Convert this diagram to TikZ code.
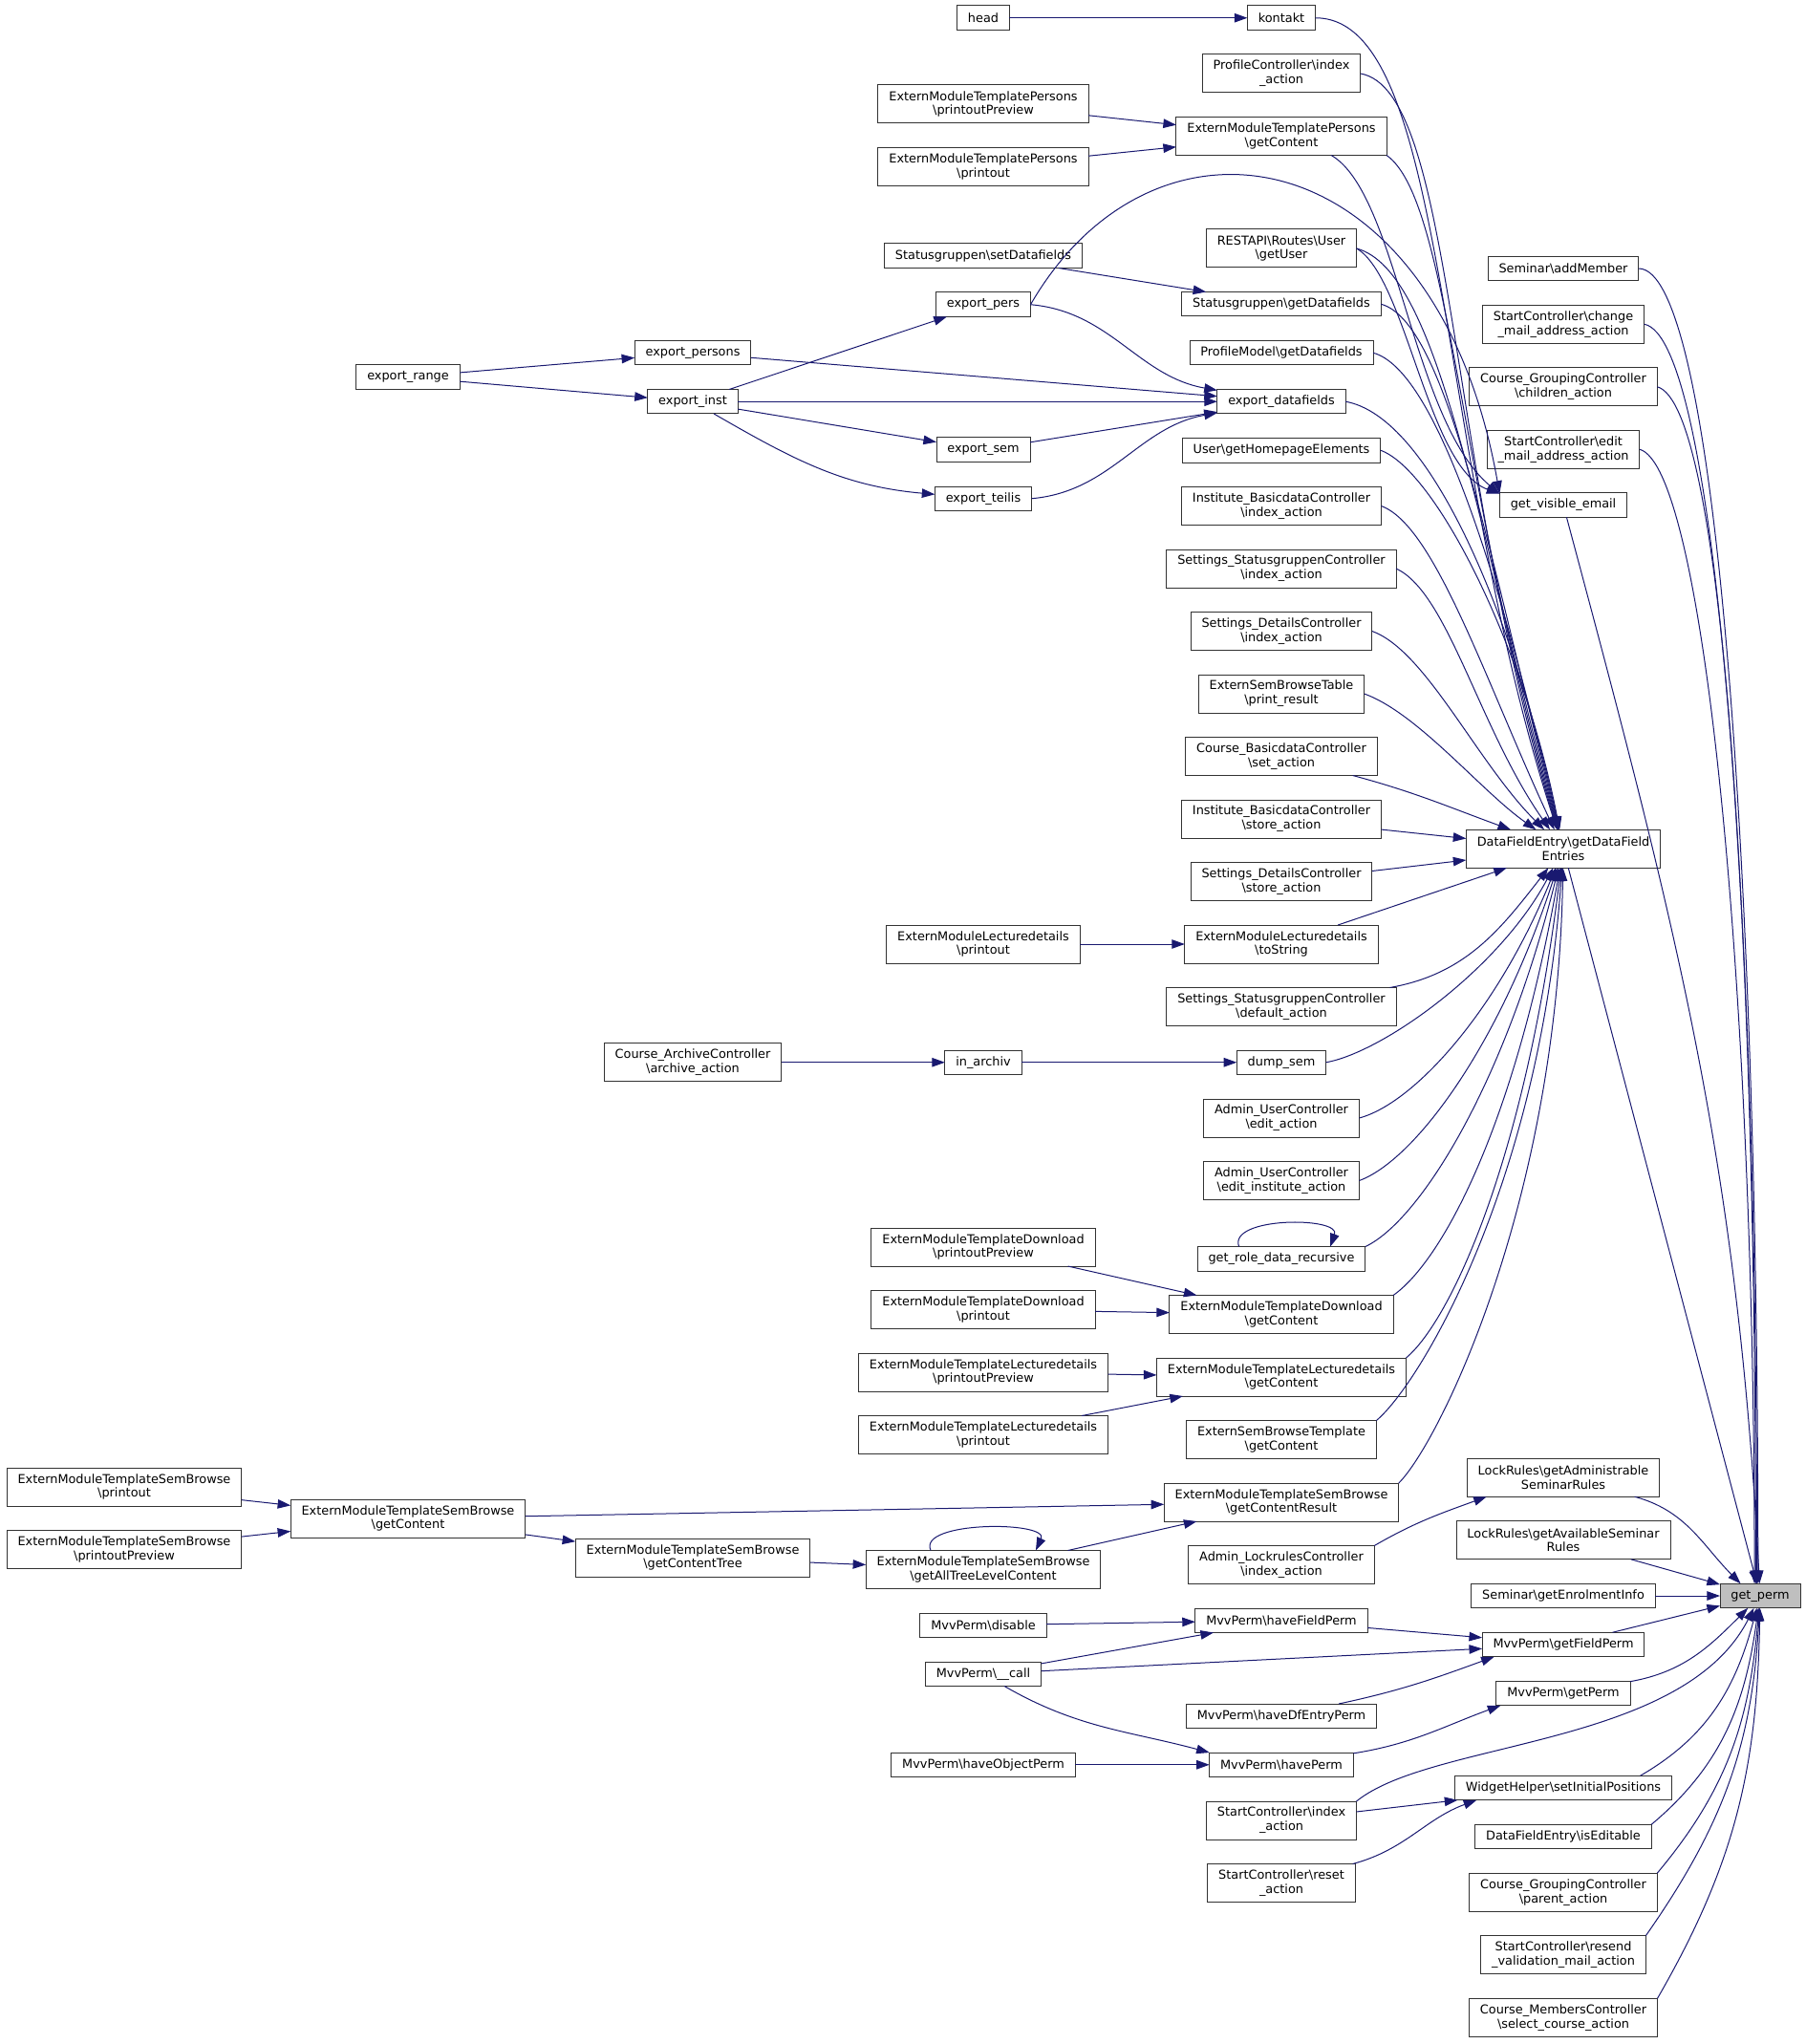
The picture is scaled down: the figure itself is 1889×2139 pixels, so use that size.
\documentclass[tikz,border=0pt]{standalone}
\usepackage{fontspec}
\newfontfamily\dxfont{DejaVu Sans}
\usepackage{tikz}
\usetikzlibrary{positioning,arrows.meta}
\definecolor{callblue}{HTML}{191970}
\definecolor{rootgray}{HTML}{BFBFBF}
\newcommand{\bsl}{\textbackslash}

\begin{document}
\begin{tikzpicture}[x=0.5pt, y=0.5pt, node distance=12.75pt]
	\tikzstyle{func}=[rectangle, draw=black!80, fill=white, line width=0.5pt, outer sep=0pt, inner xsep=5.7pt, inner ysep=0pt, minimum height=12.75pt, align=center, font=\dxfont\fontsize{6.43}{7.4}\selectfont]
	\tikzstyle{func2}=[func, minimum height=20pt]
	\tikzstyle{root}=[func, fill=rootgray]
	\tikzstyle{connect}=[-{Triangle[length=6.8pt, width=4.75pt]}, line width=0.5pt, draw=callblue]
	\useasboundingbox (0,0) rectangle (1889,-2139);
	\node[func2] (sbPrint) at (130,-1556) {ExternModuleTemplateSemBrowse\\\bsl printout};
	\node[func2] (sbPrev) [below=of sbPrint] {ExternModuleTemplateSemBrowse\\\bsl printoutPreview};
	\node[func] (exRange) at (427,-394.5) {export\_range};
	\node[func2] (sbGC) [below=580.875pt of exRange] {ExternModuleTemplateSemBrowse\\\bsl getContent};
	\node[func] (exPersons) at (725,-369.25) {export\_persons};
	\node[func] (exInst) [below=of exPersons] {export\_inst};
	\node[func2] (archiv) [below=329.375pt of exInst] {Course\_ArchiveController\\\bsl archive\_action};
	\node[func2] (sbTree) [below=239.125pt of archiv] {ExternModuleTemplateSemBrowse\\\bsl getContentTree};
	\node[func] (head) at (1029,-18.75) {head};
	\node[func2] (persPrev) [below=28.75pt of head] {ExternModuleTemplatePersons\\\bsl printoutPreview};
	\node[func2] (persPrint) [below=of persPrev] {ExternModuleTemplatePersons\\\bsl printout};
	\node[func] (sgSet) [below=30.25pt of persPrint] {Statusgruppen\bsl setDatafields};
	\node[func] (exPers) [below=of sgSet] {export\_pers};
	\node[func] (exSem) [below=63.25pt of exPers] {export\_sem};
	\node[func] (exTeilis) [below=of exSem] {export\_teilis};
	\node[func2] (emlPrint) [below=216.75pt of exTeilis] {ExternModuleLecturedetails\\\bsl printout};
	\node[func] (inArchiv) [below=45.5pt of emlPrint] {in\_archiv};
	\node[func2] (dlPrev) [below=80.25pt of inArchiv] {ExternModuleTemplateDownload\\\bsl printoutPreview};
	\node[func2] (dlPrint) [below=of dlPrev] {ExternModuleTemplateDownload\\\bsl printout};
	\node[func2] (ldPrev) [below=of dlPrint] {ExternModuleTemplateLecturedetails\\\bsl printoutPreview};
	\node[func2] (ldPrint) [below=of ldPrev] {ExternModuleTemplateLecturedetails\\\bsl printout};
	\node[func2] (sbAll) [below=50.5pt of ldPrint] {ExternModuleTemplateSemBrowse\\\bsl getAllTreeLevelContent};
	\node[func] (mvDisable) [below=of sbAll] {MvvPerm\bsl disable};
	\node[func] (mvCall) [below=of mvDisable] {MvvPerm\bsl \_\_call};
	\node[func] (mvObj) [below=34.75pt of mvCall] {MvvPerm\bsl haveObjectPerm};
	\node[func] (kontakt) at (1341,-18.75) {kontakt};
	\node[func2] (profIdx) [below=of kontakt] {ProfileController\bsl index\\\_action};
	\node[func2] (persGC) [below=of profIdx] {ExternModuleTemplatePersons\\\bsl getContent};
	\node[func2] (restUser) [below=38.75pt of persGC] {RESTAPI\bsl Routes\bsl User\\\bsl getUser};
	\node[func] (sgGet) [below=of restUser] {Statusgruppen\bsl getDatafields};
	\node[func] (profModel) [below=of sgGet] {ProfileModel\bsl getDatafields};
	\node[func] (exDf) [below=of profModel] {export\_datafields};
	\node[func] (userHome) [below=of exDf] {User\bsl getHomepageElements};
	\node[func2] (instIdx) [below=of userHome] {Institute\_BasicdataController\\\bsl index\_action};
	\node[func2] (sgcIdx) [below=of instIdx] {Settings\_StatusgruppenController\\\bsl index\_action};
	\node[func2] (sdcIdx) [below=of sgcIdx] {Settings\_DetailsController\\\bsl index\_action};
	\node[func2] (esbtPrint) [below=of sdcIdx] {ExternSemBrowseTable\\\bsl print\_result};
	\node[func2] (cbSet) [below=of esbtPrint] {Course\_BasicdataController\\\bsl set\_action};
	\node[func2] (instStore) [below=of cbSet] {Institute\_BasicdataController\\\bsl store\_action};
	\node[func2] (sdcStore) [below=of instStore] {Settings\_DetailsController\\\bsl store\_action};
	\node[func2] (emlStr) [below=of sdcStore] {ExternModuleLecturedetails\\\bsl toString};
	\node[func2] (sgcDef) [below=of emlStr] {Settings\_StatusgruppenController\\\bsl default\_action};
	\node[func] (dumpSem) [below=of sgcDef] {dump\_sem};
	\node[func2] (aucEdit) [below=of dumpSem] {Admin\_UserController\\\bsl edit\_action};
	\node[func2] (aucInst) [below=of aucEdit] {Admin\_UserController\\\bsl edit\_institute\_action};
	\node[func] (roleRec) [below=24.5pt of aucInst] {get\_role\_data\_recursive};
	\node[func2] (dlGC) [below=of roleRec] {ExternModuleTemplateDownload\\\bsl getContent};
	\node[func2] (ldGC) [below=of dlGC] {ExternModuleTemplateLecturedetails\\\bsl getContent};
	\node[func2] (esbtGC) [below=of ldGC] {ExternSemBrowseTemplate\\\bsl getContent};
	\node[func2] (sbRes) [below=of esbtGC] {ExternModuleTemplateSemBrowse\\\bsl getContentResult};
	\node[func2] (lrCtrl) [below=of sbRes] {Admin\_LockrulesController\\\bsl index\_action};
	\node[func] (mvHaveField) [below=of lrCtrl] {MvvPerm\bsl haveFieldPerm};
	\node[func] (mvDf) [below=37.25pt of mvHaveField] {MvvPerm\bsl haveDfEntryPerm};
	\node[func] (mvHave) [below=of mvDf] {MvvPerm\bsl havePerm};
	\node[func2] (scIdx) [below=of mvHave] {StartController\bsl index\\\_action};
	\node[func2] (scReset) [below=of scIdx] {StartController\bsl reset\\\_action};
	\node[func] (addMember) at (1636,-281) {Seminar\bsl addMember};
	\node[func2] (scChange) [below=of addMember] {StartController\bsl change\\\_mail\_address\_action};
	\node[func2] (cgChild) [below=of scChange] {Course\_GroupingController\\\bsl children\_action};
	\node[func2] (scEdit) [below=of cgChild] {StartController\bsl edit\\\_mail\_address\_action};
	\node[func] (visMail) [below=of scEdit] {get\_visible\_email};
	\node[func2] (dfe) [below=163.5pt of visMail] {DataFieldEntry\bsl getDataField\\Entries};
	\node[func2] (lrAdm) [below=309pt of dfe] {LockRules\bsl getAdministrable\\SeminarRules};
	\node[func2] (lrAvail) [below=of lrAdm] {LockRules\bsl getAvailableSeminar\\Rules};
	\node[func] (enrol) [below=of lrAvail] {Seminar\bsl getEnrolmentInfo};
	\node[func] (mvGetField) [below=of enrol] {MvvPerm\bsl getFieldPerm};
	\node[func] (mvGetPerm) [below=of mvGetField] {MvvPerm\bsl getPerm};
	\node[func] (widget) [below=36.75pt of mvGetPerm] {WidgetHelper\bsl setInitialPositions};
	\node[func] (dfEdit) [below=of widget] {DataFieldEntry\bsl isEditable};
	\node[func2] (cgParent) [below=of dfEdit] {Course\_GroupingController\\\bsl parent\_action};
	\node[func2] (scResend) [below=of cgParent] {StartController\bsl resend\\\_validation\_mail\_action};
	\node[func2] (cmSelect) [below=of scResend] {Course\_MembersController\\\bsl select\_course\_action};
	\node[root] (perm) at (1842,-1670) {get\_perm};
	\path (head) edge [connect] (kontakt)
	(persPrev) edge [connect] (persGC)
	(persPrint) edge [connect] (persGC)
	(sgSet) edge [connect] (sgGet)
	(exRange) edge [connect] (exPersons)
	(exRange) edge [connect] (exInst)
	(exInst) edge [connect] (exPers)
	(exInst) edge [connect] (exSem)
	(exInst) edge [connect, out=-30, in=175] (exTeilis)
	(exPersons) edge [connect] (exDf)
	(exInst) edge [connect] (exDf)
	(exSem) edge [connect] (exDf)
	(exPers.east) edge [connect, out=-5, in=170] (exDf)
	(exTeilis.east) edge [connect, out=5, in=190] (exDf)
	(emlPrint) edge [connect] (emlStr)
	(archiv) edge [connect] (inArchiv)
	(inArchiv) edge [connect] (dumpSem)
	(dlPrev) edge [connect] (dlGC)
	(dlPrint) edge [connect] (dlGC)
	(ldPrev) edge [connect] (ldGC)
	(ldPrint) edge [connect] (ldGC)
	(sbPrint) edge [connect] (sbGC)
	(sbPrev) edge [connect] (sbGC)
	(sbGC) edge [connect] (sbRes)
	(sbGC) edge [connect] (sbTree)
	(sbTree) edge [connect] (sbAll)
	(sbAll) edge [connect] (sbRes)
	(sbAll.160) edge [connect, out=115, in=65, looseness=0.8] (sbAll.20)
	(roleRec.164) edge [connect, out=110, in=70, looseness=0.9] (roleRec.14)
	(lrCtrl.north east) edge [connect, out=30, in=200] (lrAdm.194)
	(mvDisable) edge [connect] (mvHaveField)
	(mvCall) edge [connect] (mvHaveField)
	(mvCall) edge [connect] (mvGetField)
	(mvCall) edge [connect, out=-30, in=165] (mvHave.north west)
	(mvObj) edge [connect] (mvHave)
	(mvHaveField) edge [connect] (mvGetField)
	(mvDf) edge [connect, out=12, in=200] (mvGetField.190)
	(mvHave) edge [connect, out=9, in=200] (mvGetPerm.191)
	(scIdx) edge [connect] (widget)
	(scReset) edge [connect, out=15, in=200] (widget.188);
	\path (persGC.-21) edge [connect, out=-30, in=140, out distance=40pt, in distance=60pt] (visMail.170)
	(restUser.east) edge [connect, out=-30, in=160, out distance=30pt, in distance=40pt] (visMail.170)
	(exPers.east) edge [connect, out=60, in=100, out distance=130pt, in distance=190pt] (visMail.170)
	(kontakt.east) edge [connect, out=0, in=108, out distance=70pt, in distance=210pt] (dfe)
	(profIdx.east) edge [connect, out=-10, in=107, out distance=50pt, in distance=200pt] (dfe)
	(persGC.south east) edge [connect, out=-35, in=106, out distance=40pt, in distance=190pt] (dfe)
	(restUser.east) edge [connect, out=-15, in=105, out distance=45pt, in distance=165pt] (dfe)
	(sgGet.east) edge [connect, out=-15, in=104, out distance=35pt, in distance=150pt] (dfe)
	(profModel.east) edge [connect, out=-15, in=103, out distance=35pt, in distance=130pt] (dfe)
	(exDf.east) edge [connect, out=-10, in=102, out distance=45pt, in distance=115pt] (dfe)
	(userHome.east) edge [connect, out=-20, in=101, out distance=30pt, in distance=100pt] (dfe)
	(instIdx.east) edge [connect, out=-20, in=115, out distance=30pt, in distance=85pt] (dfe)
	(sgcIdx.east) edge [connect, out=-25, in=125, out distance=30pt, in distance=65pt] (dfe)
	(sdcIdx.east) edge [connect, out=-20, in=135, out distance=30pt, in distance=50pt] (dfe)
	(esbtPrint.east) edge [connect, out=-20, in=145, out distance=30pt, in distance=35pt] (dfe)
	(cbSet) edge [connect, out=-15, in=160] (dfe)
	(instStore) edge [connect] (dfe)
	(sdcStore) edge [connect] (dfe)
	(emlStr) edge [connect] (dfe)
	(sgcDef) edge [connect, out=10, in=-128] (dfe)
	(dumpSem.east) edge [connect, out=10, in=-118, out distance=30pt, in distance=60pt] (dfe)
	(aucEdit.east) edge [connect, out=15, in=-112, out distance=30pt, in distance=80pt] (dfe)
	(aucInst.east) edge [connect, out=20, in=-108, out distance=30pt, in distance=100pt] (dfe)
	(roleRec.north east) edge [connect, out=25, in=-104, out distance=30pt, in distance=120pt] (dfe)
	(dlGC.north east) edge [connect, out=35, in=-100, out distance=30pt, in distance=140pt] (dfe)
	(ldGC.north east) edge [connect, out=40, in=-97, out distance=30pt, in distance=155pt] (dfe)
	(esbtGC.north east) edge [connect, out=40, in=-94, out distance=30pt, in distance=165pt] (dfe)
	(sbRes.north east) edge [connect, out=45, in=-91, out distance=30pt, in distance=175pt] (dfe);
	\path (addMember.east) edge [connect, out=0, in=90, out distance=40pt, in distance=380pt] (perm.100)
	(scChange.east) edge [connect, out=-10, in=90, out distance=38pt, in distance=360pt] (perm.105)
	(cgChild.east) edge [connect, out=-15, in=90, out distance=36pt, in distance=340pt] (perm.110)
	(scEdit.east) edge [connect, out=-15, in=90, out distance=34pt, in distance=320pt] (perm.115)
	(visMail) edge [connect, out=-75, in=93] (perm)
	(dfe) edge [connect] (perm)
	(lrAdm) edge [connect, out=-15, in=135] (perm.148)
	(lrAvail) edge [connect] (perm)
	(enrol) edge [connect] (perm)
	(mvGetField) edge [connect] (perm)
	(mvGetPerm) edge [connect, out=10, in=-135] (perm)
	(scIdx.north east) edge [connect, out=39, in=-117, out distance=51pt, in distance=82pt] (perm)
	(widget.9) edge [connect, out=30, in=-105] (perm)
	(dfEdit.north east) edge [connect, out=40, in=-98] (perm)
	(cgParent.north east) edge [connect, out=50, in=-95] (perm)
	(scResend.north east) edge [connect, out=55, in=-93] (perm)
	(cmSelect.north east) edge [connect, out=60, in=-91] (perm);
\end{tikzpicture}
\end{document}
